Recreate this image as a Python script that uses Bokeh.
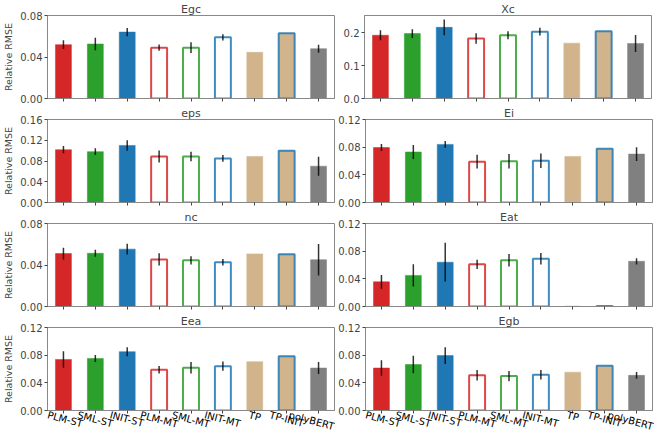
import math
from bokeh.plotting import figure
from bokeh.layouts import column, row
from bokeh.models import (Range1d, FixedTicker, PrintfTickFormatter, ColumnDataSource,
                          LinearAxis, CustomLabelingPolicy)
from bokeh.embed import file_html
from bokeh.resources import INLINE

categories = ["PLM-ST", "SML-ST", "INIT-ST", "PLM-MT", "SML-MT", "INIT-MT", "TP", "TP-INIT", "polyBERT"]

# values (relative RMSE) and error half-widths
egc_rmse = [0.0519, 0.0525, 0.0640, 0.0490, 0.0490, 0.0590, 0.0445, 0.0630, 0.0480]
egc_err = [0.0043, 0.0060, 0.0040, 0.0030, 0.0052, 0.0030, 0.0, 0.0, 0.0039]
xc_rmse = [0.192, 0.197, 0.216, 0.182, 0.192, 0.203, 0.168, 0.204, 0.167]
xc_err = [0.015, 0.013, 0.024, 0.016, 0.012, 0.012, 0.0, 0.0, 0.026]
eps_rmse = [0.1017, 0.0980, 0.1100, 0.0887, 0.0887, 0.0850, 0.0887, 0.0998, 0.0700]
eps_err = [0.0070, 0.0065, 0.0100, 0.0115, 0.0090, 0.0065, 0.0, 0.0, 0.0183]
ei_rmse = [0.0795, 0.0730, 0.0840, 0.0590, 0.0595, 0.0605, 0.0665, 0.0777, 0.0700]
ei_err = [0.0050, 0.0100, 0.0050, 0.0100, 0.0105, 0.0105, 0.0, 0.0, 0.0100]
nc_rmse = [0.0510, 0.0513, 0.0553, 0.0454, 0.0445, 0.0426, 0.0507, 0.0503, 0.0451]
nc_err = [0.0057, 0.0034, 0.0051, 0.0059, 0.0040, 0.0031, 0.0, 0.0, 0.0151]
eat_rmse = [0.0357, 0.0450, 0.0640, 0.0610, 0.0670, 0.0690, 0.0006, 0.0006, 0.0653]
eat_err = [0.0100, 0.0160, 0.0280, 0.0067, 0.0090, 0.0083, 0.0, 0.0, 0.0046]
eea_rmse = [0.0738, 0.0752, 0.0850, 0.0590, 0.0618, 0.0640, 0.0706, 0.0785, 0.0614]
eea_err = [0.0120, 0.0050, 0.0065, 0.0055, 0.0083, 0.0067, 0.0, 0.0, 0.0088]
egb_rmse = [0.0614, 0.0665, 0.0794, 0.0508, 0.0498, 0.0517, 0.0554, 0.0646, 0.0508]
egb_err = [0.0113, 0.0127, 0.0122, 0.0076, 0.0074, 0.0069, 0.0, 0.0, 0.0050]

panel_titles = ["Egc", "Xc", "eps", "Ei", "nc", "Eat", "Eea", "Egb"]
panel_values = [egc_rmse, xc_rmse, eps_rmse, ei_rmse, nc_rmse, eat_rmse, eea_rmse, egb_rmse]
panel_errors = [egc_err, xc_err, eps_err, ei_err, nc_err, eat_err, eea_err, egb_err]
panel_ymax = [0.08, 0.252, 0.16, 0.12, 0.08, 0.12, 0.12, 0.12]
panel_ticks = [[0, 0.04, 0.08], [0, 0.1, 0.2], [0, 0.04, 0.08, 0.12, 0.16], [0, 0.04, 0.08, 0.12],
               [0, 0.04, 0.08], [0, 0.04, 0.08, 0.12], [0, 0.04, 0.08, 0.12], [0, 0.04, 0.08, 0.12]]
panel_fmt = ["%.2f", "%.1f", "%.2f", "%.2f", "%.2f", "%.2f", "%.2f", "%.2f"]

RED, GREEN, BLUE, TAN, GRAY = "#d62728", "#2ca02c", "#1f77b4", "#d2b48c", "#808080"
fill_colors = [RED, GREEN, BLUE, "white", "white", "white", TAN, TAN, GRAY]
edge_colors = [RED, GREEN, BLUE, RED, GREEN, BLUE, TAN, BLUE, GRAY]
edge_widths = [1, 1, 1, 2, 2, 2, 1, 2, 1]
edge_alphas = [0.5, 0.5, 0.5, 0.85, 0.85, 0.85, 0.5, 0.85, 0.5]

FONT = "DejaVu Sans"
ANGLE = -15 * math.pi / 180
FRAME_W, FRAME_H = 287, 83
HIDE_ALL = CustomLabelingPolicy(code="for (const i of indices) { indices.unset(i) } return indices")

# approximate DejaVu Sans advance widths at 10px, used only to centre rotated labels under ticks
CHAR_W = {"P": 6.03, "L": 5.57, "M": 8.63, "-": 3.61, "S": 6.35, "T": 6.11, "I": 2.95, "N": 7.48,
          "E": 6.32, "R": 6.95, "B": 6.86, "o": 6.12, "l": 2.78, "y": 5.92, "p": 6.35}


def text_w(s):
    return sum(CHAR_W.get(ch, 6.0) for ch in s)


xpos = list(range(len(categories)))
XMIN, XMAX = -0.5, len(categories) - 0.5


def make_panel(i):
    col = i % 2
    last = i // 2 == 3
    p = figure(frame_width=FRAME_W, frame_height=FRAME_H,
               x_range=Range1d(XMIN, XMAX),
               y_range=Range1d(0, panel_ymax[i]), output_backend="svg", toolbar_location=None,
               min_border_left=40 if col == 0 else 29, min_border_right=1 if col == 0 else 2,
               min_border_top=0, min_border_bottom=0 if last else 6)
    p.title.text = panel_titles[i]
    p.title.align = "center"
    p.title.text_font = FONT
    p.title.text_font_size = "11px"
    p.title.text_font_style = "normal"
    p.title.standoff = 0
    p.title.offset = 0

    src = ColumnDataSource(dict(x=xpos, top=panel_values[i], fill=fill_colors,
                                line=edge_colors, lw=edge_widths, la=edge_alphas))
    p.vbar(x="x", top="top", width=0.5, source=src, fill_color="fill", line_color="line",
           line_width="lw", line_alpha="la")

    ex = [x for x, e in zip(xpos, panel_errors[i]) if e > 0]
    ey0 = [v - e for v, e in zip(panel_values[i], panel_errors[i]) if e > 0]
    ey1 = [v + e for v, e in zip(panel_values[i], panel_errors[i]) if e > 0]
    p.segment(x0=ex, y0=ey0, x1=ex, y1=ey1, line_color="black", line_width=1.5, line_alpha=0.8)

    p.xgrid.visible = False
    p.ygrid.visible = False
    p.outline_line_color = "#888888"
    p.outline_line_width = 1

    p.yaxis.ticker = FixedTicker(ticks=panel_ticks[i])
    p.yaxis.formatter = PrintfTickFormatter(format=panel_fmt[i])
    p.yaxis.minor_tick_line_color = None
    p.yaxis.major_tick_out = 3
    p.yaxis.major_tick_in = 0
    p.yaxis.major_label_standoff = 2
    p.yaxis.major_label_text_font = FONT
    p.yaxis.major_label_text_font_size = "10px"
    p.yaxis.axis_line_color = "#888888"
    p.yaxis.major_tick_line_color = "#444444"
    if col == 0:
        p.yaxis.axis_label = "Relative RMSE"
        p.yaxis.axis_label_text_font = FONT
        p.yaxis.axis_label_text_font_size = "9.5px"
        p.yaxis.axis_label_text_font_style = "normal"
        p.yaxis.axis_label_standoff = 3

    p.xaxis.ticker = FixedTicker(ticks=xpos)
    p.xaxis.major_tick_out = 3
    p.xaxis.major_tick_in = 0
    p.xaxis.axis_line_color = "#888888"
    p.xaxis.major_tick_line_color = "#444444"
    p.xaxis.minor_tick_line_color = None
    p.xaxis.major_label_policy = HIDE_ALL
    p.xaxis.major_label_text_font_size = "0px"
    p.xaxis.major_label_standoff = 0

    if last:
        # label-only axis: bokeh left-aligns rotated labels at the tick, so each label's
        # anchor is moved left by half its rotated width to centre it like matplotlib
        px_per_unit = FRAME_W / len(categories)
        pos = [round(max(XMIN + 0.001, k - (text_w(c) * math.cos(ANGLE) / 2) / px_per_unit), 4)
               for k, c in zip(xpos, categories)]
        lab_axis = LinearAxis(ticker=FixedTicker(ticks=pos),
                              major_label_overrides={v: c for v, c in zip(pos, categories)},
                              major_label_orientation=ANGLE, major_label_standoff=1,
                              major_tick_line_color=None, minor_tick_line_color=None,
                              major_tick_out=0, major_tick_in=0,
                              axis_line_color=None, major_label_text_font=FONT,
                              major_label_text_font_size="10px", major_label_text_color="black")
        p.add_layout(lab_axis, "below")
    return p


panels = [make_panel(i) for i in range(8)]
layout = column(*[row(panels[2 * r], panels[2 * r + 1]) for r in range(4)])

open("out.html", "w").write(file_html(layout, INLINE))
